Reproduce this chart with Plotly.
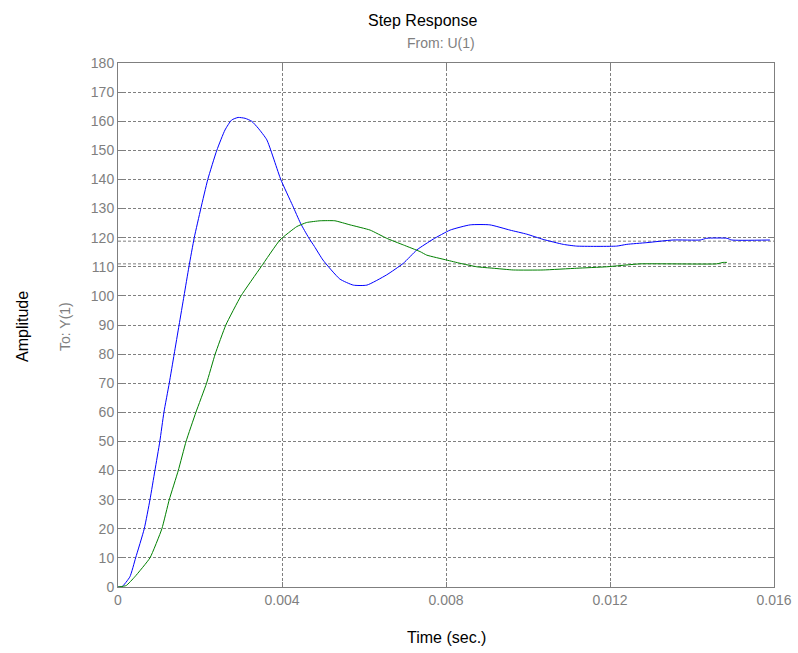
import plotly.graph_objects as go

# Blue response (time in s, amplitude)
blue_t = [0, 0.00009, 0.00029, 0.00043, 0.00064, 0.00078, 0.0009, 0.00102, 0.00112, 0.00125,
          0.00137, 0.00149, 0.00161, 0.00173, 0.00186, 0.00202, 0.00219, 0.00241, 0.00261, 0.00277,
          0.00293, 0.0031, 0.00326, 0.00342, 0.00363, 0.00397, 0.00426, 0.00445, 0.00465, 0.00479, 0.005,
          0.00541, 0.00574, 0.00607, 0.00655, 0.00696, 0.00729, 0.00769, 0.0081, 0.00859, 0.00907,
          0.00956, 0.00997, 0.01037, 0.01086, 0.01119, 0.01216, 0.01241, 0.0129, 0.01354, 0.0142,
          0.01436, 0.01485, 0.01497, 0.0159]
blue_v = [0, 0, 3.5, 10, 20, 30, 40, 50, 60, 70,
          80, 90, 100, 110, 120, 130, 140, 150, 157, 160.4,
          161.3, 161, 160, 157.6, 153.6, 140, 131, 125, 120, 117, 112.3,
          105.8, 103.7, 103.7, 107.2, 111.2, 115.8, 119.5, 122.6, 124.4, 124.4,
          122.6, 121.2, 119.4, 117.7, 117.1, 117.1, 117.7, 118.3, 119.2, 119.2,
          119.8, 119.8, 119.2, 119.2]

# Green response
green_t = [0, 0.0002, 0.00041, 0.00078, 0.00107, 0.00125, 0.00147, 0.00166, 0.0019, 0.00216,
           0.00237, 0.00263, 0.003, 0.00349, 0.00395, 0.00436, 0.0046, 0.00493, 0.00529, 0.00566,
           0.00615, 0.00655, 0.00696, 0.00737, 0.00753, 0.00802, 0.00834, 0.00875, 0.00915, 0.00964,
           0.01037, 0.01119, 0.01192, 0.01273, 0.0146, 0.01476, 0.01485]
green_v = [0, 0.5, 3.5, 10, 20, 30, 40, 50, 60, 70,
           80, 90, 100, 110, 119.2, 123.8, 125.2, 125.8, 125.8, 124.4,
           122.6, 119.8, 117.5, 115.2, 114.0, 112.3, 111.2, 110.0, 109.5, 108.9,
           108.9, 109.5, 110.0, 111.0, 111.0, 111.5, 111.5]

# Steady-state reference levels
steady_levels = [118.8, 111.0]

x_tickvals = [0, 0.004, 0.008, 0.012, 0.016]
x_ticktext = ["0", "0.004", "0.008", "0.012", "0.016"]
y_tickvals = list(range(0, 181, 10))

GRAY = "#7f7f7f"
FONT = "Liberation Sans, Arial, sans-serif"

fig = go.Figure()
fig.add_trace(go.Scatter(x=blue_t, y=blue_v, mode="lines",
                         line=dict(color="#0000ff", width=1, shape="spline", smoothing=0.5),
                         showlegend=False))
fig.add_trace(go.Scatter(x=green_t, y=green_v, mode="lines",
                         line=dict(color="#008000", width=1, shape="spline", smoothing=0.4),
                         showlegend=False))

for lvl in steady_levels:
    fig.add_hline(y=lvl, line=dict(color=GRAY, width=1, dash="3px,2px"), layer="below")

fig.update_layout(
    width=798, height=653,
    margin=dict(l=118, r=24, t=63, b=66, autoexpand=False),
    plot_bgcolor="white", paper_bgcolor="white",
    font=dict(family=FONT, size=14, color=GRAY),
    showlegend=False,
    annotations=[
        dict(text="Step Response", xref="paper", yref="paper", x=(423 - 118) / 656, y=1,
             yshift=43, showarrow=False, font=dict(size=16, color="black"), yanchor="middle"),
        dict(text="From: U(1)", xref="paper", yref="paper", x=(441 - 118) / 656, y=1,
             yshift=20, showarrow=False, font=dict(size=14, color=GRAY), yanchor="middle"),
        dict(text="Amplitude", xref="paper", yref="paper", x=0, xshift=-96, y=(587 - 327) / 524,
             showarrow=False, textangle=-90, font=dict(size=16, color="black"), xanchor="center"),
        dict(text="To: Y(1)", xref="paper", yref="paper", x=0, xshift=-53, y=(587 - 327) / 524,
             showarrow=False, textangle=-90, font=dict(size=14, color=GRAY), xanchor="center"),
        dict(text="Time (sec.)", xref="paper", yref="paper", x=(446 - 118) / 656, y=0,
             yshift=-50, showarrow=False, font=dict(size=16, color="black"), yanchor="middle"),
    ],
)

fig.update_xaxes(range=[0, 0.016], tickvals=x_tickvals, ticktext=x_ticktext,
                 showgrid=True, gridcolor=GRAY, griddash="3px,2px", gridwidth=1,
                 showline=True, linecolor=GRAY, linewidth=1, mirror="allticks",
                 ticks="inside", ticklen=5, tickcolor=GRAY, zeroline=False, automargin=False,
                 tickfont=dict(size=14, color=GRAY))
fig.update_yaxes(range=[0, 180], tickvals=y_tickvals,
                 showgrid=True, gridcolor=GRAY, griddash="3px,2px", gridwidth=1,
                 showline=True, linecolor=GRAY, linewidth=1, mirror="allticks",
                 ticks="inside", ticklen=5, tickcolor=GRAY, zeroline=False, automargin=False,
                 tickfont=dict(size=14, color=GRAY))

fig.write_html("out.html", config={"displayModeBar": False},
               post_script="document.body.style.margin='0';document.body.style.overflow='hidden';")
